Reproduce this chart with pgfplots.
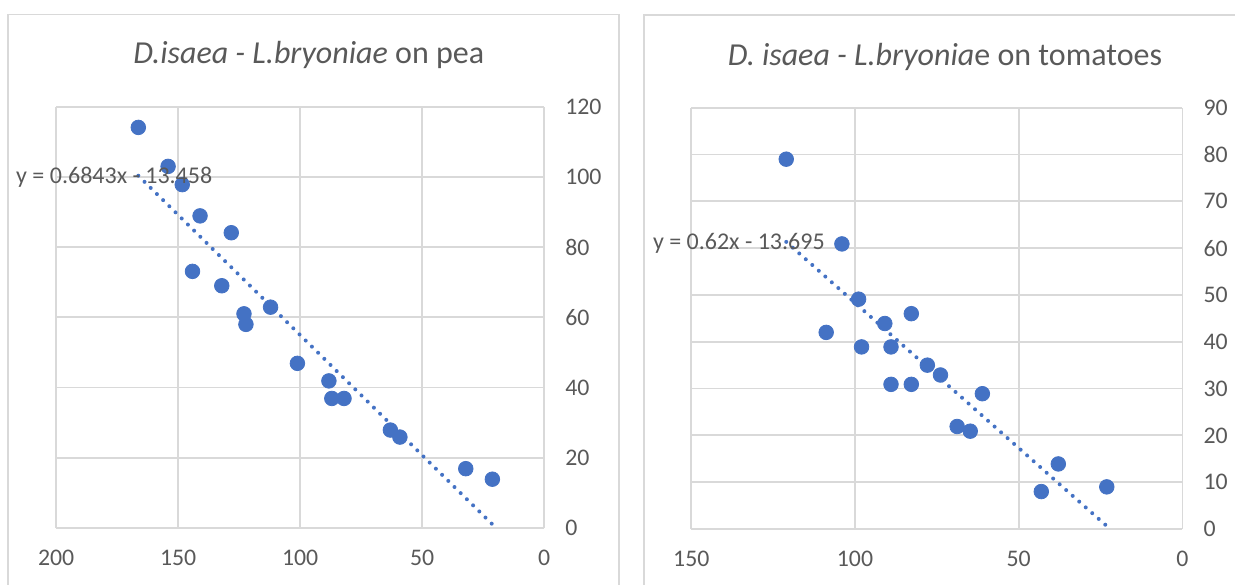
\documentclass[border=0pt]{standalone}
\usepackage{pgfplots}
\pgfplotsset{compat=1.18}
\usepackage{fontspec}
\setmainfont{Carlito}
\definecolor{dot}{HTML}{4472C4}
\definecolor{gridc}{HTML}{D9D9D9}
\definecolor{txt}{HTML}{595959}

\pgfplotsset{
  xlchart/.style={
    scale only axis,
    x dir=reverse,
    axis line style={draw=none},
    major tick length=0pt,
    grid=major,
    grid style={gridc, line width=0.9pt},
    yticklabel pos=right,
    ticklabel style={font=\fontsize{11.9}{13}\selectfont, text=txt},
    xticklabel style={yshift=-7.7pt},
    yticklabel style={anchor=west, xshift=7.1pt},
    /pgf/number format/assume math mode=true,
    clip=false,
  },
  pts/.style={only marks, mark=*, mark size=3.65pt, color=dot},
  trend/.style={no marks, color=dot, line width=2pt, line cap=round, dash pattern=on 0pt off 4.35pt},
}

\begin{document}
\begin{tikzpicture}
\useasboundingbox (0,0) rectangle (617.5pt,292pt);
\clip (0,0) rectangle (617.5pt,292pt);

% chart frames
\draw[gridc, line width=0.8pt] (3.95pt,-10pt) -- (3.95pt,284.65pt) -- (309.5pt,284.65pt) -- (309.5pt,-10pt);
\draw[gridc, line width=0.8pt] (321.95pt,-10pt) -- (321.95pt,284.5pt) -- (625pt,284.5pt);

% pea
\begin{axis}[xlchart, at={(28.05pt,28pt)}, anchor=south west,
  width=244pt, height=210.65pt,
  xmin=0, xmax=200, ymin=0, ymax=120,
  xtick={0,50,100,150,200}, ytick={0,20,40,60,80,100,120}]
\addplot[pts] coordinates {
  (166.3,114.1) (154.1,103.0) (148.3,97.8) (141.0,88.9) (128.2,84.1)
  (144.1,73.1) (132.1,69.0) (112.1,62.9) (123.0,61.0) (122.2,58.0)
  (101.1,46.9) (88.2,41.9) (87.0,36.9) (82.0,36.9) (63.0,27.9)
  (59.1,25.9) (32.1,16.9) (21.2,13.9)
};
\addplot[trend] coordinates {(166.3,100.34) (21.2,1.05)};
\end{axis}

% tomatoes
\begin{axis}[xlchart, at={(345.65pt,27.5pt)}, anchor=south west,
  width=245.55pt, height=210.65pt,
  xmin=0, xmax=150, ymin=0, ymax=90,
  xtick={0,50,100,150}, ytick={0,10,...,90}]
\addplot[pts] coordinates {
  (121.0,79.0) (104.0,60.9) (98.9,49.1) (82.8,46.0) (90.9,43.9)
  (108.8,42.0) (98.0,38.9) (89.0,38.9) (77.9,35.0) (73.9,32.9)
  (89.0,30.9) (82.8,30.9) (61.1,28.9) (68.8,21.9) (64.8,20.9)
  (37.9,13.9) (43.1,8.0) (23.1,9.0)
};
\addplot[trend] coordinates {(121.0,61.33) (23.1,0.63)};
\end{axis}

% titles
\node[text=txt, font=\fontsize{16}{18}\selectfont] at (154.4pt,264.5pt)
  {\textit{D.isaea - L.bryoniae} on pea};
\node[text=txt, font=\fontsize{16}{18}\selectfont] at (472.5pt,263.5pt)
  {\textit{D. isaea - L.bryonia}e on tomatoes};

% trendline equations
\node[text=txt, anchor=west, inner sep=0pt, font=\fontsize{12}{13}\selectfont] at (7.9pt,203.5pt)
  {y = 0.6843x - 13.458};
\node[text=txt, anchor=west, inner sep=0pt, font=\fontsize{12}{13}\selectfont] at (326.3pt,170.15pt)
  {y = 0.62x - 13.695};
\end{tikzpicture}
\end{document}
